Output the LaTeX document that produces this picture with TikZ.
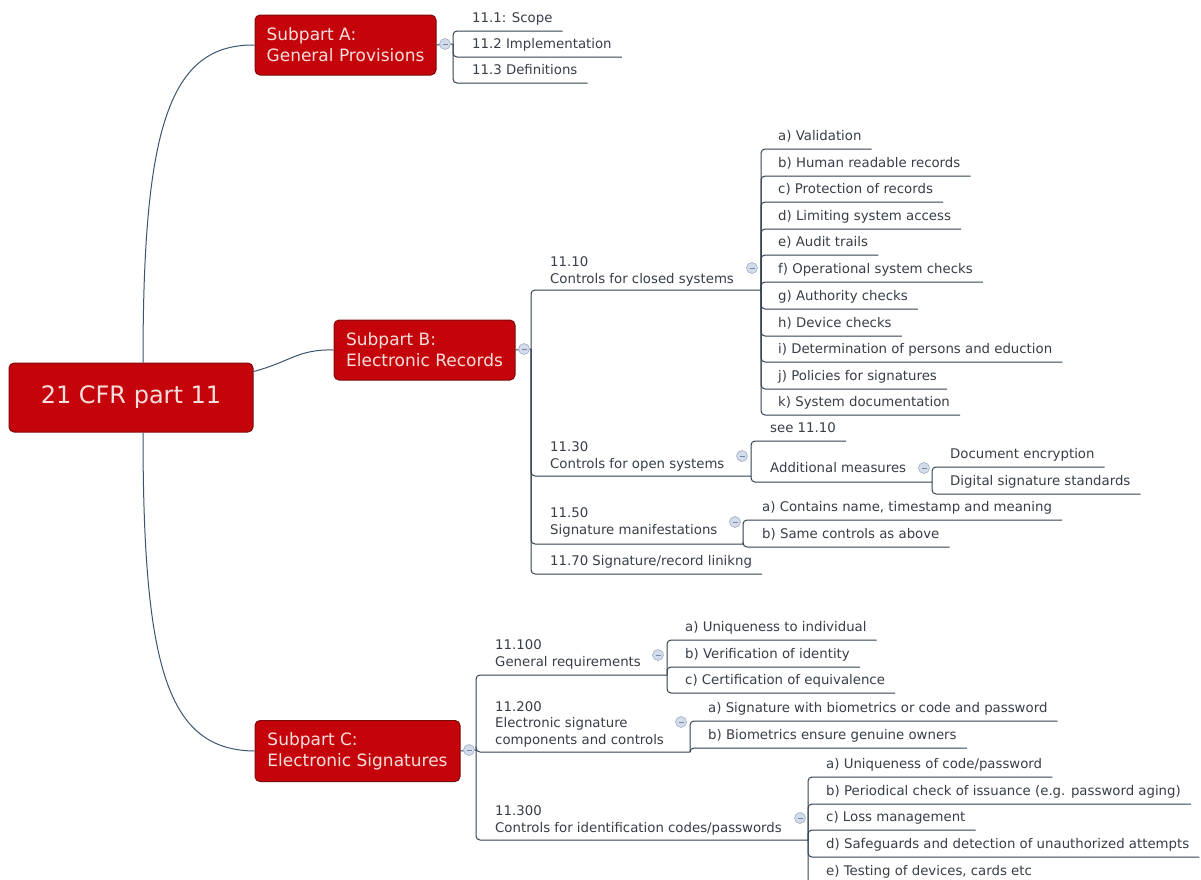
\documentclass[tikz,border=0pt]{standalone}
\usepackage{fontspec}
\setmainfont{DejaVu Sans}
\usetikzlibrary{calc}
\definecolor{boxred}{RGB}{196,4,10}
\definecolor{boxedge}{RGB}{125,10,10}
\definecolor{boxtxt}{RGB}{250,222,222}
\definecolor{linec}{RGB}{52,66,80}
\definecolor{curvec}{RGB}{60,85,110}
\definecolor{txtc}{RGB}{55,62,72}
\definecolor{circfill}{RGB}{210,220,234}
\definecolor{circedge}{RGB}{160,176,198}
\definecolor{circminus}{RGB}{120,136,160}
\tikzset{
 mainbox/.style={rectangle, rounded corners=5pt, fill=boxred, draw=boxedge, line width=1pt, text=boxtxt, align=left, font=\fontsize{17}{21}\selectfont, inner sep=0pt},
 rootbox/.style={mainbox, font=\fontsize{24}{28}\selectfont},
 lbl/.style={text=txtc, font=\fontsize{13.3}{16.5}\selectfont, anchor=base west, inner sep=0pt, align=left},
 br/.style={draw=linec, line width=1pt, rounded corners=4pt},
 curve/.style={draw=curvec, line width=1pt},
 tog/.style={circle, fill=circfill, draw=circedge, line width=0.6pt, minimum size=11pt, inner sep=0pt,
   path picture={\draw[circminus, line width=0.8pt] ([xshift=-2.5pt]path picture bounding box.center) -- ([xshift=2.5pt]path picture bounding box.center);}},
 ul/.style={xshift=10pt, yshift=-9pt}
}
\begin{document}
\begin{tikzpicture}[x=1pt, y=-1pt]
\useasboundingbox (0,0) rectangle (1201,879);
\fill[white] (0,0) rectangle (1201,879);

% main boxes
\node[rootbox, minimum width=244pt, minimum height=69pt] (root) at (131,397.5) {21 CFR part 11};
\node[mainbox, minimum width=181pt, minimum height=60pt] (sa) at (345.5,45) {Subpart A:\\General Provisions};
\node[mainbox, minimum width=181pt, minimum height=60pt] (sb) at (424.5,350) {Subpart B:\\Electronic Records};
\node[mainbox, minimum width=205pt, minimum height=61pt] (sc) at (357.5,751) {Subpart C:\\Electronic Signatures};

% joints
\coordinate (ja) at (453,44);
\coordinate (jb) at (531,349);
\coordinate (jc) at (476,750);

% Subpart A children
\node[lbl] (a1) at (472,22) {11.1: Scope};
\node[lbl] (a2) at (472,48) {11.2 Implementation};
\node[lbl] (a3) at (472,74) {11.3 Definitions};

% Subpart B children
\node[lbl] (b1) at (550,283) {11.10\\Controls for closed systems};
\coordinate (jb1) at (761,290);
\node[lbl] (b1a) at (778,140) {a) Validation};
\node[lbl] (b1b) at (778,167) {b) Human readable records};
\node[lbl] (b1c) at (778,193) {c) Protection of records};
\node[lbl] (b1d) at (778,220) {d) Limiting system access};
\node[lbl] (b1e) at (778,246) {e) Audit trails};
\node[lbl] (b1f) at (778,273) {f) Operational system checks};
\node[lbl] (b1g) at (778,300) {g) Authority checks};
\node[lbl] (b1h) at (778,327) {h) Device checks};
\node[lbl] (b1i) at (778,353) {i) Determination of persons and eduction};
\node[lbl] (b1j) at (778,380) {j) Policies for signatures};
\node[lbl] (b1k) at (778,406) {k) System documentation};

\node[lbl] (b2) at (550,468) {11.30\\Controls for open systems};
\coordinate (jb2) at (751,476);
\node[lbl] (b2a) at (770,432) {see 11.10};
\node[lbl] (b2b) at (770,472) {Additional measures};
\coordinate (jb2b) at (932,482);
\node[lbl] (b2b1) at (950,458) {Document encryption};
\node[lbl] (b2b2) at (950,485) {Digital signature standards};

\node[lbl] (b3) at (550,534) {11.50\\Signature manifestations};
\coordinate (jb3) at (743,544);
\node[lbl] (b3a) at (762,511) {a) Contains name, timestamp and meaning};
\node[lbl] (b3b) at (762,538) {b) Same controls as above};

\node[lbl] (b4) at (550,565) {11.70 Signature/record linikng};

% Subpart C children
\node[lbl] (c1) at (495,666) {11.100\\General requirements};
\coordinate (jc1) at (667,675);
\node[lbl] (c1a) at (685,631) {a) Uniqueness to individual};
\node[lbl] (c1b) at (685,658) {b) Verification of identity};
\node[lbl] (c1c) at (685,684) {c) Certification of equivalence};

\node[lbl] (c2) at (495,744) {11.200\\Electronic signature\\components and controls};
\coordinate (jc2) at (690,752);
\node[lbl] (c2a) at (708,712) {a) Signature with biometrics or code and password};
\node[lbl] (c2b) at (708,739) {b) Biometrics ensure genuine owners};

\node[lbl] (c3) at (495,832) {11.300\\Controls for identification codes/passwords};
\coordinate (jc3) at (808,840);
\node[lbl] (c3a) at (826,768) {a) Uniqueness of code/password};
\node[lbl] (c3b) at (826,795) {b) Periodical check of issuance (e.g. password aging)};
\node[lbl] (c3c) at (826,821) {c) Loss management};
\node[lbl] (c3d) at (826,848) {d) Safeguards and detection of unauthorized attempts};
\node[lbl] (c3e) at (826,875) {e) Testing of devices, cards etc};

% curves from root
\draw[curve] ([xshift=12pt]root.north) .. controls (143,130) and (168,44) .. (sa.west);
\draw[curve] ([yshift=26pt]root.east) .. controls (290,362) and (298,349) .. (sb.west);
\draw[curve] ([xshift=12pt]root.south) .. controls (143,670) and (168,750) .. (sc.west);

% box to joints
\draw[br] (sa.east) -- (ja);
\draw[br] (sb.east) -- (jb);
\draw[br] (sc.east) -- (jc);

% brackets
\foreach \n in {a1,a2,a3} \draw[br] (ja) |- ([ul]\n.base east);
\draw[br] (jb) |- (jb1);
\draw[br] (jb) |- (jb2);
\draw[br] (jb) |- (jb3);
\draw[br] (jb) |- ([ul]b4.base east);
\foreach \n in {b1a,b1b,b1c,b1d,b1e,b1f,b1g,b1h,b1i,b1j,b1k} \draw[br] (jb1) |- ([ul]\n.base east);
\draw[br] (jb2) |- ([ul]b2a.base east);
\draw[br] (jb2) |- (jb2b);
\foreach \n in {b2b1,b2b2} \draw[br] (jb2b) |- ([ul]\n.base east);
\foreach \n in {b3a,b3b} \draw[br] (jb3) |- ([ul]\n.base east);
\draw[br] (jc) |- (jc1);
\draw[br] (jc) |- (jc2);
\draw[br] (jc) |- (jc3);
\foreach \n in {c1a,c1b,c1c} \draw[br] (jc1) |- ([ul]\n.base east);
\foreach \n in {c2a,c2b} \draw[br] (jc2) |- ([ul]\n.base east);
\foreach \n in {c3a,c3b,c3c,c3d,c3e} \draw[br] (jc3) |- ([ul]\n.base east);

% collapse toggles
\node[tog] (ta) at (445,44) {};
\node[tog] (tb) at (524,349) {};
\node[tog] (tc) at (469,750) {};
\node[tog] (tb1) at (752,268) {};
\node[tog] (tb2) at (742,456) {};
\node[tog] (tb2b) at (924,468) {};
\node[tog] (tb3) at (735,522) {};
\node[tog] (tc1) at (658,655) {};
\node[tog] (tc2) at (681,722) {};
\node[tog] (tc3) at (800,818) {};
\end{tikzpicture}
\end{document}
